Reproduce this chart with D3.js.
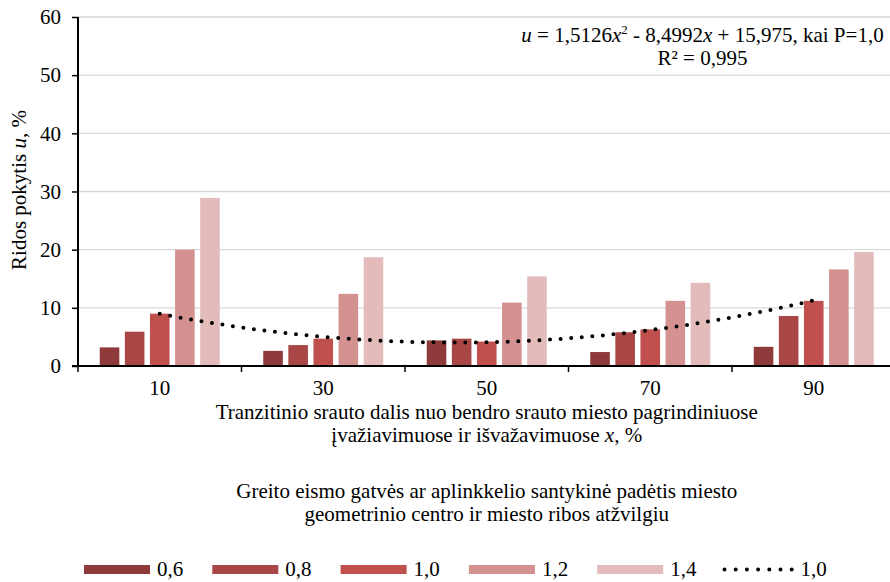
<!DOCTYPE html>
<html>
<head>
<meta charset="utf-8">
<script src="https://cdn.jsdelivr.net/npm/d3@7"></script>
<style>
  html, body { margin: 0; padding: 0; background: #fff; }
  svg { display: block; font-family: "Liberation Serif", "Times New Roman", serif; }
</style>
</head>
<body>
<svg id="chart" width="890" height="582"></svg>
<script>
// Transit share categories (x, %)
const categories = ["10", "30", "50", "70", "90"];
// Relative position of the bypass (P)
const seriesNames = ["0,6", "0,8", "1,0", "1,2", "1,4"];
const seriesColors = ["#8e3a3a", "#a94646", "#c0504d", "#d39190", "#e3bbbb"];
// Route length change u, % — one array per P value, ordered by category
const p06 = [3.2, 2.6, 4.4, 2.4, 3.3];
const p08 = [5.9, 3.6, 4.7, 5.8, 8.6];
const p10 = [9.0, 4.7, 4.2, 6.3, 11.2];
const p12 = [20.0, 12.4, 10.9, 11.2, 16.6];
const p14 = [28.9, 18.7, 15.4, 14.3, 19.6];
const seriesValues = [p06, p08, p10, p12, p14];
// Quadratic trend for P = 1,0 (coefficients a, b, c of u = a·x² + b·x + c)
const trendCoef = [1.5126, -8.4992, 15.975];
const trendR2 = "0,995";
const yTicks = [0, 10, 20, 30, 40, 50, 60];

const FS = 21;
const svg = d3.select("#chart");
const plotL = 78, plotR = 895.5, plotT = 17, plotB = 366;

const x0 = d3.scaleBand().domain(categories).range([plotL, plotR]).padding(0);
const bw = x0.bandwidth();
const x1 = d3.scaleBand().domain(seriesNames)
  .range([bw * 0.133, bw * 0.867]).paddingInner(0.22).paddingOuter(0);
const y = d3.scaleLinear().domain([0, 60]).range([plotB, plotT]);

// Gridlines
svg.append("g")
  .selectAll("line").data(yTicks.filter(d => d > 0)).join("line")
  .attr("x1", plotL).attr("x2", 890)
  .attr("y1", d => y(d)).attr("y2", d => y(d))
  .attr("stroke", "#d9d9d9").attr("stroke-width", 1.3);

// Bars
const groups = svg.append("g").selectAll("g").data(categories).join("g")
  .attr("transform", d => `translate(${x0(d)},0)`);
groups.selectAll("rect")
  .data((c, ci) => seriesNames.map((s, si) => ({ s, si, v: seriesValues[si][ci] })))
  .join("rect")
  .attr("x", d => x1(d.s))
  .attr("width", x1.bandwidth())
  .attr("y", d => y(d.v))
  .attr("height", d => y(0) - y(d.v))
  .attr("fill", d => seriesColors[d.si]);

// Trendline for P = 1,0 (dotted)
const xt = d3.scaleLinear().domain([1, categories.length])
  .range([x0(categories[0]) + bw / 2, x0(categories[categories.length - 1]) + bw / 2]);
const trendPts = d3.range(1, categories.length + 0.001, 0.05)
  .map(t => [t, trendCoef[0] * t * t + trendCoef[1] * t + trendCoef[2]]);
svg.append("path")
  .datum(trendPts)
  .attr("d", d3.line().x(d => xt(d[0])).y(d => y(d[1])))
  .attr("fill", "none").attr("stroke", "#000").attr("stroke-width", 4)
  .attr("stroke-linecap", "round").attr("stroke-dasharray", "0 10.6");

// Y axis
const yAxis = svg.append("g").attr("transform", `translate(${plotL},0)`)
  .call(d3.axisLeft(y).tickValues(yTicks).tickSize(6).tickPadding(11));
yAxis.select(".domain").attr("stroke", "#000").attr("stroke-width", 2)
  .attr("d", `M0,${plotT}V${plotB}`);
yAxis.selectAll(".tick line").attr("stroke", "#000").attr("stroke-width", 1.5);
yAxis.selectAll(".tick text").attr("font-size", FS).attr("fill", "#000")
  .attr("font-family", "Liberation Serif");

// X axis: ticks at category boundaries, labels at centres
const xAxis = svg.append("g").attr("transform", `translate(0,${plotB})`);
xAxis.append("line").attr("x1", plotL - 6).attr("x2", 890)
  .attr("y1", 0).attr("y2", 0).attr("stroke", "#000").attr("stroke-width", 2);
xAxis.selectAll("line.tk").data(categories).join("line").attr("class", "tk")
  .attr("x1", d => x0(d)).attr("x2", d => x0(d))
  .attr("y1", 0).attr("y2", 6).attr("stroke", "#000").attr("stroke-width", 1.5);
xAxis.selectAll("text").data(categories).join("text")
  .attr("x", d => x0(d) + bw / 2).attr("y", 29)
  .attr("text-anchor", "middle").attr("font-size", FS).text(d => d);

// Y axis title
const yt = svg.append("text")
  .attr("transform", "translate(26,190) rotate(-90)")
  .attr("text-anchor", "middle").attr("font-size", FS);
yt.append("tspan").text("Ridos pokytis ");
yt.append("tspan").attr("font-style", "italic").text("u");
yt.append("tspan").text(", %");

// X axis titles
const cx = (plotL + plotR) / 2;
const t1 = svg.append("text").attr("text-anchor", "middle").attr("font-size", FS);
t1.append("tspan").attr("x", cx).attr("y", 419)
  .text("Tranzitinio srauto dalis nuo bendro srauto miesto pagrindiniuose");
t1.append("tspan").attr("x", cx).attr("y", 442).text("įvažiavimuose ir išvažavimuose ");
t1.append("tspan").attr("font-style", "italic").text("x");
t1.append("tspan").text(", %");

const t2 = svg.append("text").attr("text-anchor", "middle").attr("font-size", FS);
t2.append("tspan").attr("x", cx).attr("y", 498)
  .text("Greito eismo gatvės ar aplinkkelio santykinė padėtis miesto");
t2.append("tspan").attr("x", cx).attr("y", 521)
  .text("geometrinio centro ir miesto ribos atžvilgiu");

// Trendline equation label
const fmt = v => String(Math.abs(v)).replace(".", ",");
const eq = svg.append("text").attr("text-anchor", "middle").attr("font-size", FS);
eq.append("tspan").attr("x", 702.5).attr("y", 42).attr("font-style", "italic").text("u");
eq.append("tspan").text(` = ${fmt(trendCoef[0])}`);
eq.append("tspan").attr("font-style", "italic").text("x");
eq.append("tspan").attr("font-size", 13).attr("dy", -8).text("2");
eq.append("tspan").attr("dy", 8).text(` - ${fmt(trendCoef[1])}`);
eq.append("tspan").attr("font-style", "italic").text("x");
eq.append("tspan").text(` + ${fmt(trendCoef[2])}, kai P=1,0`);
svg.append("text").attr("x", 702.5).attr("y", 65).attr("text-anchor", "middle")
  .attr("font-size", FS).text(`R² = ${trendR2}`);

// Legend
const legX = 84, legStep = 128.3, legY = 565;
const leg = svg.append("g");
seriesNames.forEach((name, i) => {
  const gx = legX + i * legStep;
  leg.append("rect").attr("x", gx).attr("y", legY).attr("width", 66).attr("height", 9)
    .attr("fill", seriesColors[i]);
  leg.append("text").attr("x", gx + 73).attr("y", legY + 11).attr("font-size", FS).text(name);
});
const lx = legX + 5 * legStep;
leg.append("line").attr("x1", lx - 1).attr("x2", lx + 68).attr("y1", legY + 4.5).attr("y2", legY + 4.5)
  .attr("stroke", "#000").attr("stroke-width", 4).attr("stroke-linecap", "round")
  .attr("stroke-dasharray", "0 11.2");
leg.append("text").attr("x", lx + 75).attr("y", legY + 11).attr("font-size", FS).text("1,0");
</script>
</body>
</html>
